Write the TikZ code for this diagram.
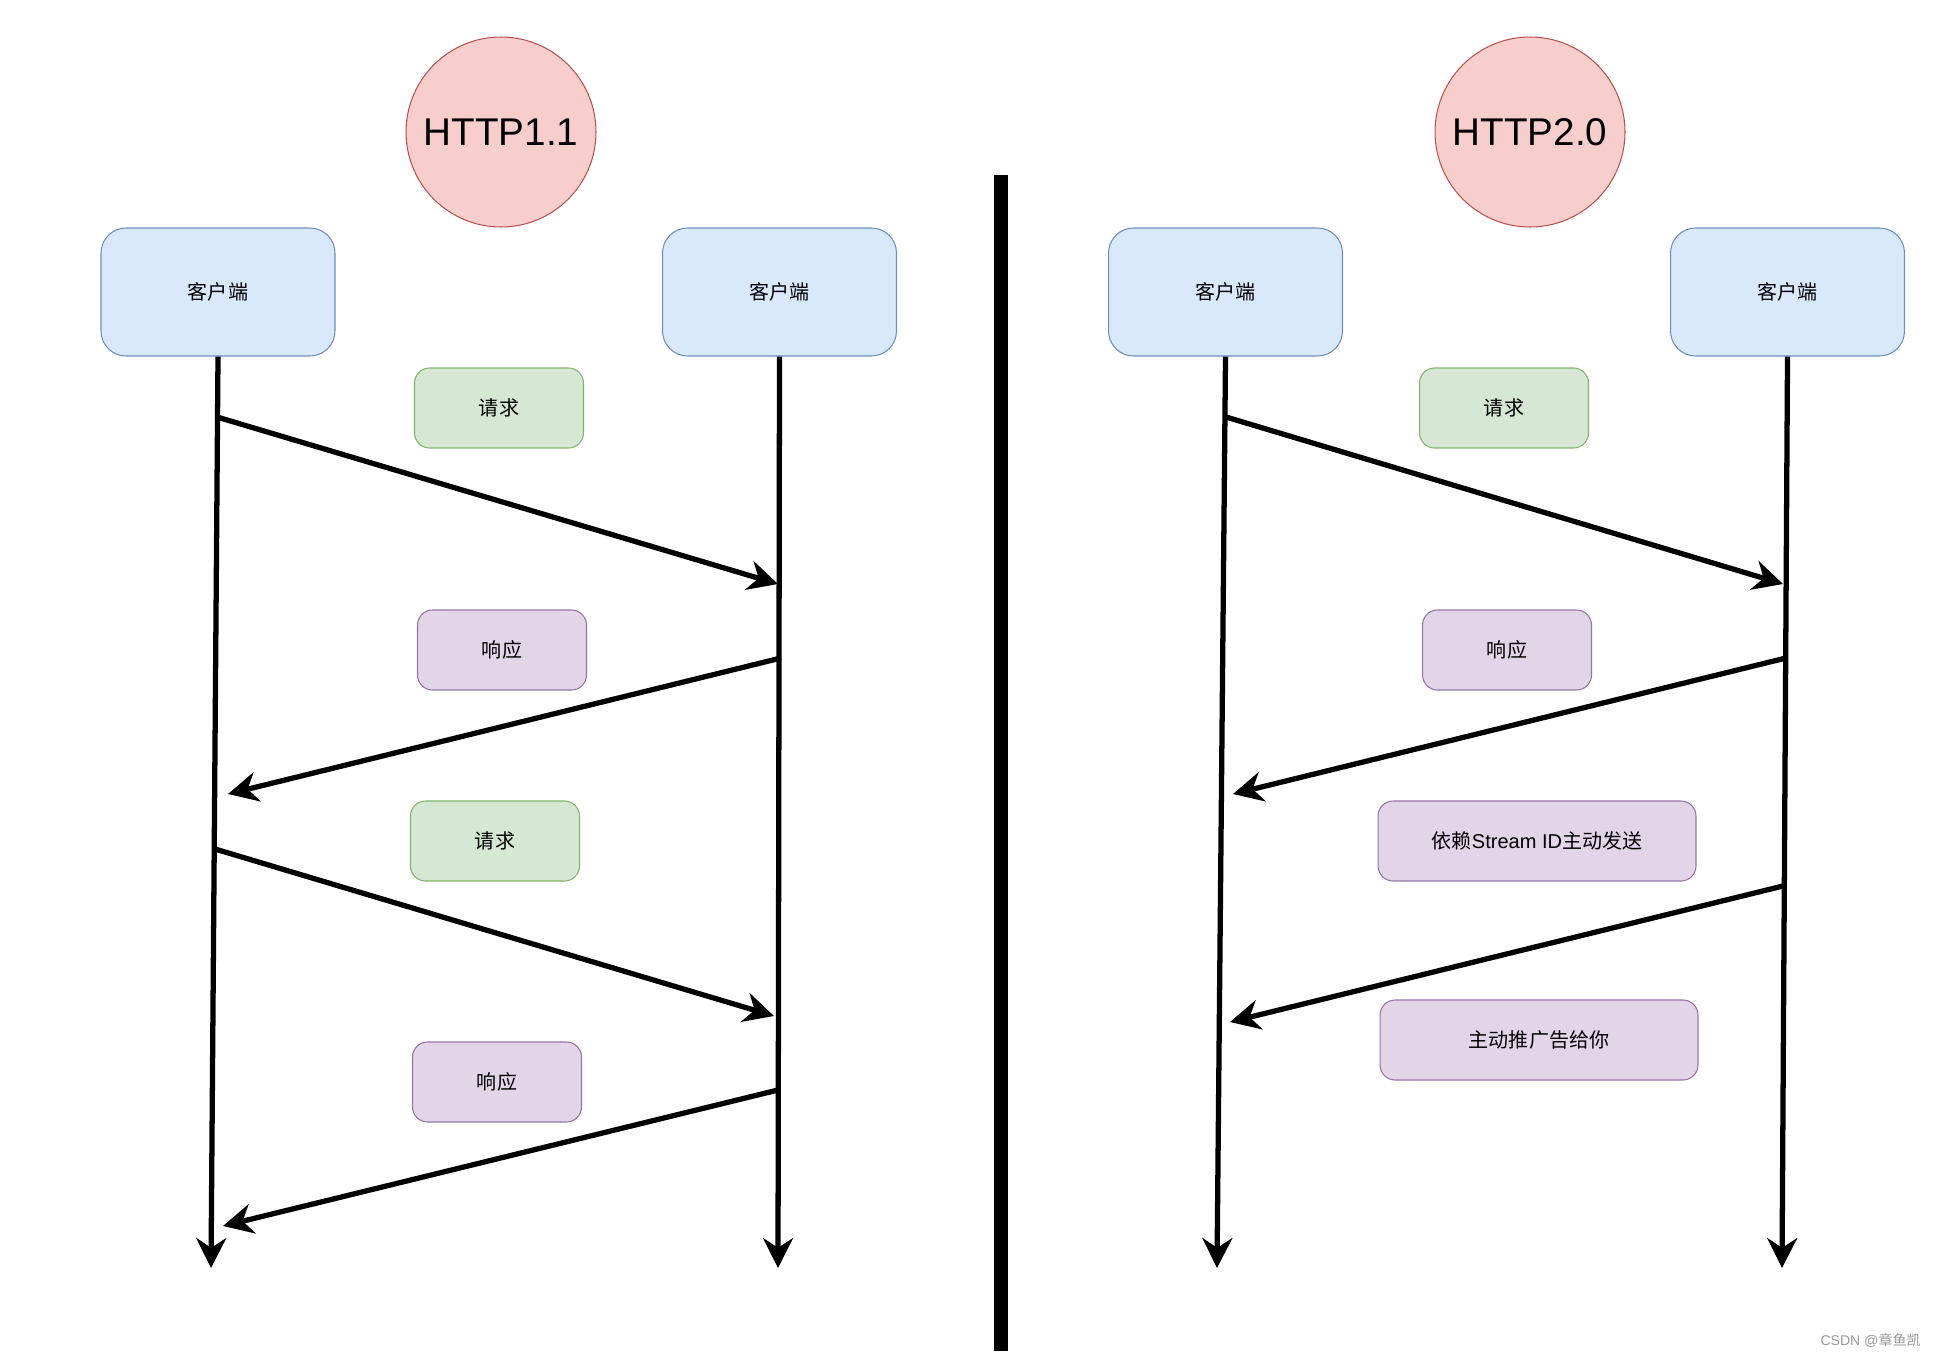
\documentclass[tikz,border=0pt]{standalone}
\usepackage{fontspec}
\setmainfont{Liberation Sans}
\newfontfamily\cjk{Noto Sans CJK SC}
\usetikzlibrary{arrows.meta, positioning}

\definecolor{clientfill}{HTML}{DAE8FC}
\definecolor{clientline}{HTML}{6C8EBF}
\definecolor{reqfill}{HTML}{D5E8D4}
\definecolor{reqline}{HTML}{82B366}
\definecolor{respfill}{HTML}{E1D5E7}
\definecolor{respline}{HTML}{9673A6}
\definecolor{verfill}{HTML}{F8CECC}
\definecolor{verline}{HTML}{B85450}

\begin{document}
\begin{tikzpicture}[
      x=0.02cm, y=-0.02cm,
      client/.style={rectangle, draw=clientline, fill=clientfill, line width=0.6pt, rounded corners=0.5cm, minimum width=4.68cm, minimum height=2.56cm, font=\cjk\fontsize{11.4}{13}\selectfont},
      msgbox/.style={rectangle, line width=0.6pt, rounded corners=0.3cm, minimum height=1.6cm, font=\fontsize{11.4}{13}\selectfont},
      req/.style={msgbox, draw=reqline, fill=reqfill, minimum width=3.38cm},
      resp/.style={msgbox, draw=respline, fill=respfill, minimum width=3.38cm},
      wide/.style={msgbox, draw=respline, fill=respfill, minimum width=6.36cm},
      version/.style={circle, draw=verline, fill=verfill, line width=0.6pt, minimum size=3.8cm, inner sep=0pt, font=\fontsize{22}{26}\selectfont},
      arrow/.style={-{Stealth[length=17pt, width=17pt, inset=5.5pt]}, line width=3pt}
    ]
    \useasboundingbox (0,0) rectangle (1936,1356);

    % HTTP1.1 side
    \node[version] (v1) at (501,132) {HTTP1.1};
    \node[client] (c1a) at (218,292) {客户端};
    \node[client] (c1b) at (779.5,292) {客户端};

    \node[req] (q1) at (499,408) {\cjk 请求};
    \node[resp] (r1) at (502,650) {\cjk 响应};
    \node[req] (q2) at (495,841) {\cjk 请求};
    \node[resp] (r2) at (497,1082) {\cjk 响应};

    \coordinate (e1a) at (211,1268);
    \coordinate (e1b) at (778,1268);
    \draw[arrow] (c1a.south) -- (e1a);
    \draw[arrow] (c1b.south) -- (e1b);

    \coordinate (q1s) at (217,417);  \coordinate (q1e) at (778,584);
    \coordinate (r1s) at (781,658);  \coordinate (r1e) at (228,794);
    \coordinate (q2s) at (215,849);  \coordinate (q2e) at (774,1016);
    \coordinate (r2s) at (778,1090); \coordinate (r2e) at (223,1226);
    \draw[arrow] (q1s) -- (q1e);
    \draw[arrow] (r1s) -- (r1e);
    \draw[arrow] (q2s) -- (q2e);
    \draw[arrow] (r2s) -- (r2e);

    % divider
    \draw[line width=8pt] (1001,175) -- (1001,1351);

    % HTTP2.0 side
    \node[version] (v2) at (1530,132) {HTTP2.0};
    \node[client] (c2a) at (1225.5,292) {客户端};
    \node[client] (c2b) at (1787.5,292) {客户端};

    \node[req] (q3) at (1504,408) {\cjk 请求};
    \node[resp] (r3) at (1507,650) {\cjk 响应};
    \node[wide] (s3) at (1537,841) {{\cjk 依赖}Stream ID{\cjk 主动发送}};
    \node[wide] (p3) at (1539,1040) {\cjk 主动推广告给你};

    \coordinate (e2a) at (1217,1268);
    \coordinate (e2b) at (1782,1268);
    \draw[arrow] (c2a.south) -- (e2a);
    \draw[arrow] (c2b.south) -- (e2b);

    \coordinate (q3s) at (1226,417); \coordinate (q3e) at (1783,584);
    \coordinate (r3s) at (1786,658); \coordinate (r3e) at (1233,794);
    \coordinate (p3s) at (1783,886); \coordinate (p3e) at (1230,1022);
    \draw[arrow] (q3s) -- (q3e);
    \draw[arrow] (r3s) -- (r3e);
    \draw[arrow] (p3s) -- (p3e);

    \node[anchor=east, text=black!40, font=\fontsize{8}{9}\selectfont, inner sep=0pt] (mark) at (1921,1340) {CSDN @{\cjk 章鱼凯}};
  \end{tikzpicture}
\end{document}
